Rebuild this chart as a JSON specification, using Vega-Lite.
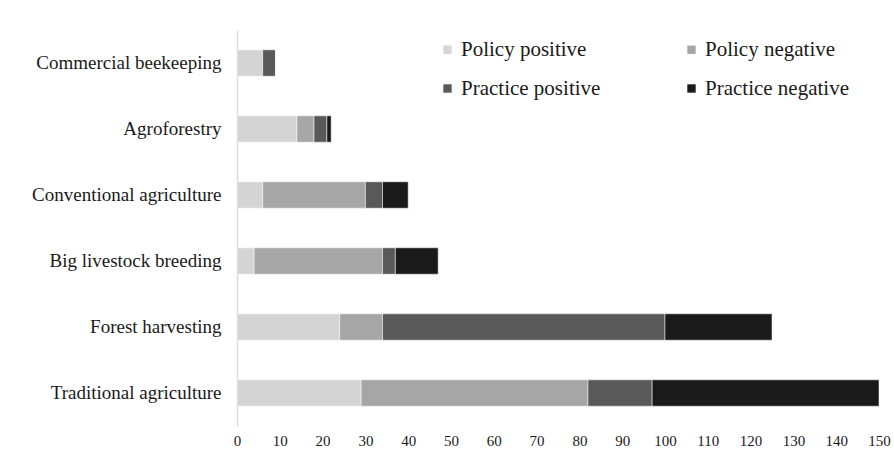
{
  "$schema": "https://vega.github.io/schema/vega-lite/v6.json",
  "width": 642,
  "height": 396,
  "autosize": "none",
  "padding": {"left": 237, "top": 30, "right": 15, "bottom": 37},
  "background": "white",
  "config": {
    "view": {"stroke": null},
    "font": "Liberation Serif"
  },
  "data": {
    "values": [
      {"activity": "Commercial beekeeping", "type": "Policy positive", "seq": 1, "count": 6},
      {"activity": "Commercial beekeeping", "type": "Policy negative", "seq": 2, "count": 0},
      {"activity": "Commercial beekeeping", "type": "Practice positive", "seq": 3, "count": 3},
      {"activity": "Commercial beekeeping", "type": "Practice negative", "seq": 4, "count": 0},
      {"activity": "Agroforestry", "type": "Policy positive", "seq": 1, "count": 14},
      {"activity": "Agroforestry", "type": "Policy negative", "seq": 2, "count": 4},
      {"activity": "Agroforestry", "type": "Practice positive", "seq": 3, "count": 3},
      {"activity": "Agroforestry", "type": "Practice negative", "seq": 4, "count": 1},
      {"activity": "Conventional agriculture", "type": "Policy positive", "seq": 1, "count": 6},
      {"activity": "Conventional agriculture", "type": "Policy negative", "seq": 2, "count": 24},
      {"activity": "Conventional agriculture", "type": "Practice positive", "seq": 3, "count": 4},
      {"activity": "Conventional agriculture", "type": "Practice negative", "seq": 4, "count": 6},
      {"activity": "Big livestock breeding", "type": "Policy positive", "seq": 1, "count": 4},
      {"activity": "Big livestock breeding", "type": "Policy negative", "seq": 2, "count": 30},
      {"activity": "Big livestock breeding", "type": "Practice positive", "seq": 3, "count": 3},
      {"activity": "Big livestock breeding", "type": "Practice negative", "seq": 4, "count": 10},
      {"activity": "Forest harvesting", "type": "Policy positive", "seq": 1, "count": 24},
      {"activity": "Forest harvesting", "type": "Policy negative", "seq": 2, "count": 10},
      {"activity": "Forest harvesting", "type": "Practice positive", "seq": 3, "count": 66},
      {"activity": "Forest harvesting", "type": "Practice negative", "seq": 4, "count": 25},
      {"activity": "Traditional agriculture", "type": "Policy positive", "seq": 1, "count": 29},
      {"activity": "Traditional agriculture", "type": "Policy negative", "seq": 2, "count": 53},
      {"activity": "Traditional agriculture", "type": "Practice positive", "seq": 3, "count": 15},
      {"activity": "Traditional agriculture", "type": "Practice negative", "seq": 4, "count": 53}
    ]
  },
  "mark": {"type": "bar", "stroke": "white", "strokeWidth": 0.5},
  "encoding": {
    "y": {
      "field": "activity",
      "type": "nominal",
      "sort": ["Commercial beekeeping", "Agroforestry", "Conventional agriculture", "Big livestock breeding", "Forest harvesting", "Traditional agriculture"],
      "scale": {"paddingInner": 0.6, "paddingOuter": 0.3},
      "axis": {
        "title": null,
        "ticks": false,
        "domainColor": "#d9d9d9",
        "domainWidth": 1.5,
        "labelFont": "Liberation Serif",
        "labelFontSize": 19,
        "labelLimit": 400,
        "labelColor": "#1a1a1a",
        "labelPadding": 16
      }
    },
    "x": {
      "field": "count",
      "type": "quantitative",
      "stack": "zero",
      "scale": {"domain": [0, 150], "nice": false},
      "axis": {
        "title": null,
        "values": [0, 10, 20, 30, 40, 50, 60, 70, 80, 90, 100, 110, 120, 130, 140, 150],
        "grid": false,
        "ticks": false,
        "domain": false,
        "labelFont": "Liberation Serif",
        "labelFontSize": 15,
        "labelColor": "#1a1a1a",
        "labelPadding": 7,
        "labelFlush": false
      }
    },
    "order": {"field": "seq", "type": "quantitative", "sort": "ascending"},
    "color": {
      "field": "type",
      "type": "nominal",
      "sort": ["Policy positive", "Policy negative", "Practice positive", "Practice negative"],
      "scale": {
        "domain": ["Policy positive", "Policy negative", "Practice positive", "Practice negative"],
        "range": ["#d4d4d4", "#a6a6a6", "#595959", "#1a1a1a"]
      },
      "legend": {
        "title": null,
        "orient": "none",
        "direction": "horizontal",
        "legendX": 200,
        "legendY": 9,
        "columns": 2,
        "columnPadding": 80,
        "rowPadding": 17,
        "symbolType": "square",
        "symbolSize": 70,
        "symbolStrokeWidth": 0,
        "labelFont": "Liberation Serif",
        "labelFontSize": 21,
        "labelColor": "#1a1a1a",
        "labelOffset": 3
      }
    }
  }
}
